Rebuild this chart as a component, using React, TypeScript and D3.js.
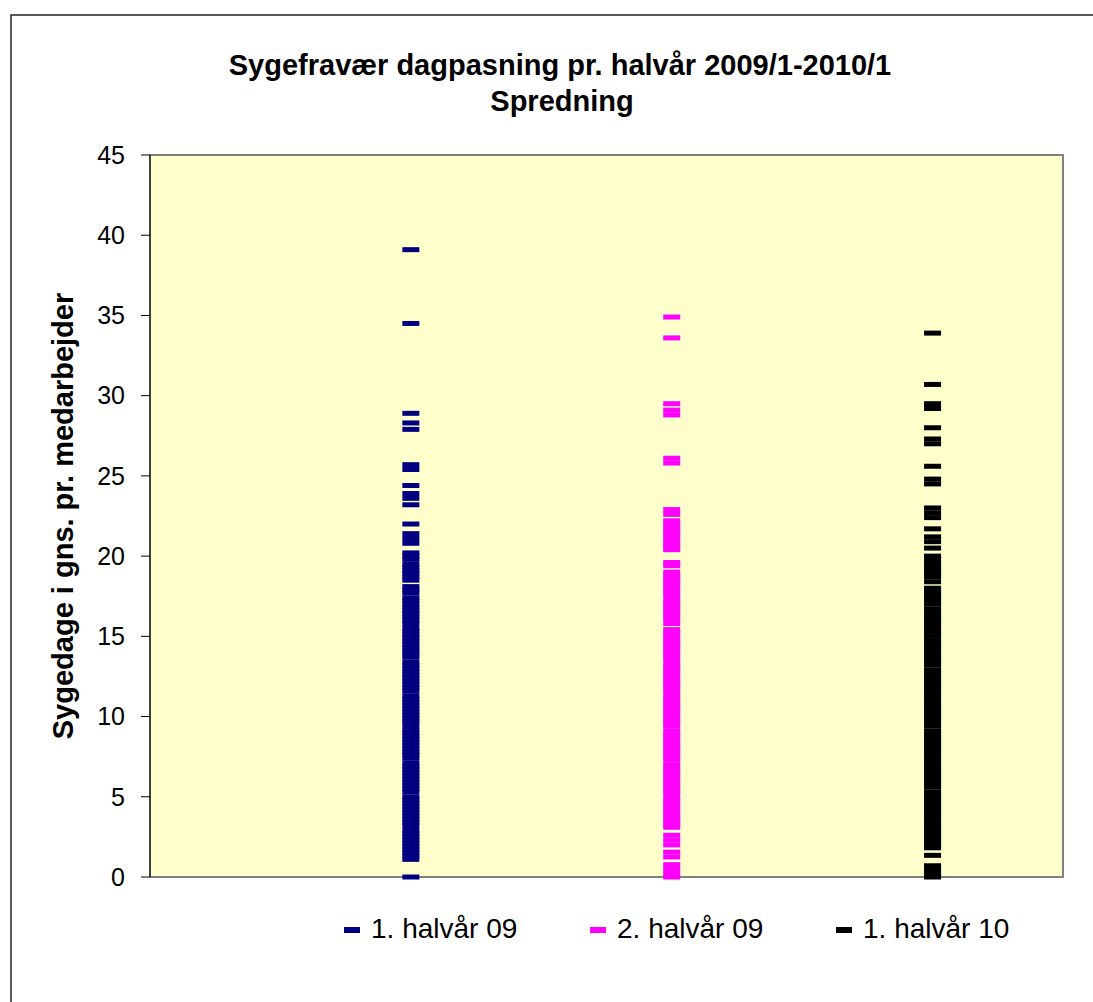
import React from "react";
import * as d3 from "d3";

const seriesNames = ["1. halvår 09", "2. halvår 09", "1. halvår 10"];
const seriesColors = ["#000080", "#FF00FF", "#000000"];
const yTicks = [0, 5, 10, 15, 20, 25, 30, 35, 40, 45];

const halvaar09_1 = [
  39.1, 34.5, 28.9, 28.3, 27.9, 25.7, 25.4, 24.4, 23.9, 23.6, 23.2, 22.0, 21.4, 21.1, 20.8,
  20.2, 20.0, 19.8, 19.5, 19.3, 19.1, 18.9, 18.7, 18.5,
  18.1, 17.9, 17.7, 17.4, 17.2, 17.0, 16.8, 16.6, 16.4, 16.2, 16.0, 15.8, 15.5, 15.3, 15.1,
  14.9, 14.7, 14.5, 14.3, 14.1, 13.9, 13.7, 13.4, 13.2, 13.0, 12.8, 12.6, 12.4, 12.2, 12.0,
  11.8, 11.6, 11.3, 11.1, 10.9, 10.7, 10.5, 10.3, 10.1, 9.9, 9.7, 9.5, 9.2, 9.0, 8.8, 8.6,
  8.4, 8.2, 8.0, 7.8, 7.6, 7.4, 7.1, 6.9, 6.7, 6.5, 6.3, 6.1, 5.9, 5.7, 5.5, 5.3, 5.0, 4.8,
  4.6, 4.4, 4.2, 4.0, 3.8, 3.6, 3.4, 3.2, 2.9, 2.7, 2.5, 2.3, 2.1, 1.9, 1.7, 1.5, 1.3, 1.1,
  0.0,
];

const halvaar09_2 = [
  34.9, 33.6, 29.5, 29.1, 28.8, 26.1, 25.8, 22.9, 22.6, 22.2, 22.0, 21.8, 21.6, 21.4, 21.2,
  21.0, 20.8, 20.6, 20.4, 19.6, 19.4,
  19.0, 18.8, 18.6, 18.4, 18.2, 18.0, 17.8, 17.6, 17.3, 17.1, 16.9, 16.7, 16.5, 16.3, 16.1, 15.8,
  15.42, 15.2, 15.0, 14.8, 14.6, 14.4, 14.2, 14.0, 13.8, 13.6, 13.3, 13.1, 12.9, 12.7, 12.5,
  12.3, 12.1, 11.9, 11.7, 11.5, 11.2, 11.0, 10.8, 10.6, 10.4, 10.2, 10.0, 9.8, 9.6, 9.4, 9.1,
  8.9, 8.7, 8.5, 8.3, 8.1, 7.9, 7.7, 7.5, 7.3, 7.0, 6.8, 6.6, 6.4, 6.2, 6.0, 5.8, 5.6, 5.4,
  5.2, 4.9, 4.7, 4.5, 4.3, 4.1, 3.9, 3.7, 3.5, 3.3, 3.1,
  2.6, 2.3, 2.0, 1.55, 1.25, 0.77, 0.5, 0.25, 0.0,
];

const halvaar10_1 = [
  33.9, 30.7, 29.5, 29.2, 28.0, 27.3, 27.0, 25.6, 24.8, 24.5, 23.0, 22.7, 22.4, 21.7, 21.2,
  20.9, 20.5, 20.0, 19.8, 19.6, 19.3, 19.1, 18.9, 18.7, 18.4,
  18.0, 17.8, 17.6, 17.4, 17.2, 17.0, 16.7, 16.5, 16.3, 16.1, 15.9, 15.7, 15.5, 15.3, 15.1,
  14.8, 14.6, 14.4, 14.2, 14.0, 13.8, 13.6, 13.4, 13.2, 12.9, 12.7, 12.5, 12.3, 12.1, 11.9,
  11.7, 11.5, 11.3, 11.0, 10.8, 10.6, 10.4, 10.2, 10.0, 9.8, 9.6, 9.4, 9.1, 8.9, 8.7, 8.5,
  8.3, 8.1, 7.9, 7.7, 7.5, 7.2, 7.0, 6.8, 6.6, 6.4, 6.2, 6.0, 5.8, 5.6, 5.3, 5.1, 4.9, 4.7,
  4.5, 4.3, 4.1, 3.9, 3.7, 3.4, 3.2, 3.0, 2.8, 2.6, 2.4, 2.2, 2.0, 1.82,
  1.35, 0.7, 0.45, 0.2, 0.0,
];

const seriesData = [halvaar09_1, halvaar09_2, halvaar10_1];

const W = 1093;
const H = 1002;
const plot = { left: 150, right: 1063, top: 155, bottom: 877 };
const font = "'Liberation Sans', Arial, sans-serif";

export default function App() {
  const x = d3.scaleLinear().domain([0, 3.5]).range([plot.left, plot.right]);
  const y = d3.scaleLinear().domain([0, 45]).range([plot.bottom, plot.top]);
  const markW = 17;
  const markH = 5;
  const legendX = [344, 590, 836];

  return (
    <svg
      width={W}
      height={H}
      style={{ position: "absolute", left: 0, top: 0, background: "#fff" }}
      fontFamily={font}
    >
      <rect x={0} y={0} width={W} height={H} fill="#fff" />
      <rect x={11} y={15} width={W + 20} height={H + 20} fill="#fff" stroke="#222" strokeWidth={1.5} />

      <text x={560} y={75} textAnchor="middle" fontWeight="bold" fontSize={29} fill="#000">
        Sygefravær dagpasning pr. halvår 2009/1-2010/1
      </text>
      <text x={562} y={111} textAnchor="middle" fontWeight="bold" fontSize={29} fill="#000">
        Spredning
      </text>

      <rect
        x={plot.left}
        y={plot.top}
        width={plot.right - plot.left}
        height={plot.bottom - plot.top}
        fill="#FFFFCC"
        stroke="#808080"
        strokeWidth={2}
      />
      <line x1={plot.left} x2={plot.left} y1={plot.top} y2={plot.bottom} stroke="#000" strokeWidth={1} />

      {yTicks.map((t) => (
        <g key={t}>
          <line x1={plot.left - 9} x2={plot.left} y1={y(t)} y2={y(t)} stroke="#000" strokeWidth={1} />
          <text x={125} y={y(t)} dy="0.35em" textAnchor="end" fontSize={25} fill="#000">
            {t}
          </text>
        </g>
      ))}

      <text
        transform={`translate(73, ${(plot.top + plot.bottom) / 2}) rotate(-90)`}
        textAnchor="middle"
        fontWeight="bold"
        fontSize={29}
        fill="#000"
      >
        Sygedage i gns. pr. medarbejder
      </text>

      {seriesData.map((vals, si) => (
        <g key={si} fill={seriesColors[si]}>
          {vals.map((v, i) => (
            <rect key={i} x={x(si + 1) - markW / 2} y={y(v) - markH / 2} width={markW} height={markH} />
          ))}
        </g>
      ))}

      {seriesNames.map((n, i) => (
        <g key={n}>
          <rect x={legendX[i]} y={927} width={16} height={6} fill={seriesColors[i]} />
          <text x={legendX[i] + 27} y={938} fontSize={28} fill="#000">
            {n}
          </text>
        </g>
      ))}
    </svg>
  );
}
